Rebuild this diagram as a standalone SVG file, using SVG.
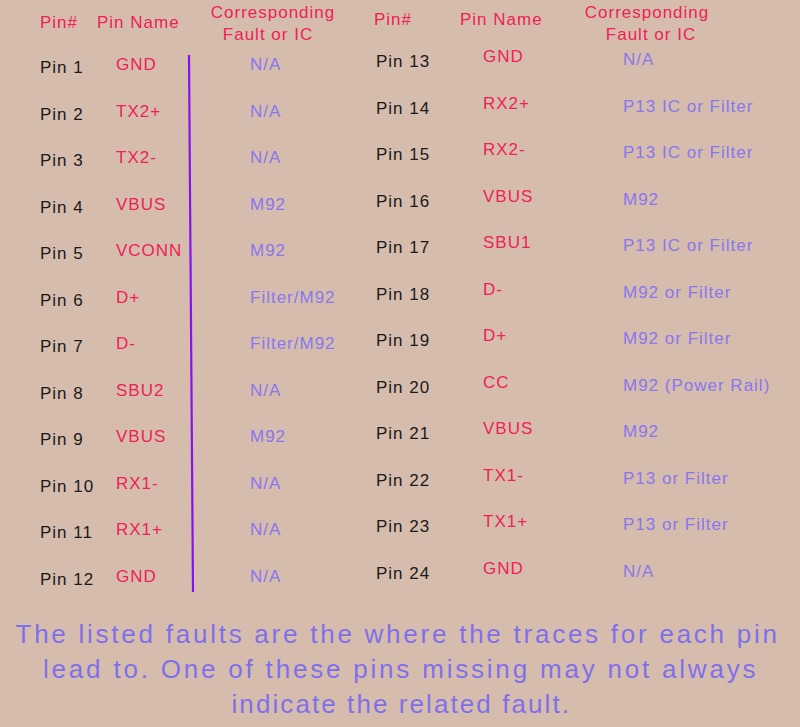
<svg xmlns="http://www.w3.org/2000/svg" width="800" height="727" viewBox="0 0 800 727">
<style>
text{font-family:"Liberation Sans",Arial,sans-serif;font-size:17px;letter-spacing:1px}
.h{fill:#ee2255}
.p{fill:#1a1a1a}
.n{fill:#ee2255}
.f{fill:#8877ee}
.note{fill:#7f70ea;font-size:26px;letter-spacing:1.5px;text-anchor:middle}
.mid{text-anchor:middle}
</style>
<rect width="800" height="727" fill="#d6bcad"/>
<g id="headers">
<text class="h" x="40" y="28">Pin#</text>
<text class="h" x="97" y="28">Pin Name</text>
<text class="h mid" x="273" y="18">Corresponding</text>
<text class="h mid" x="268" y="40">Fault or IC</text>
<text class="h" x="374" y="25">Pin#</text>
<text class="h" x="460" y="25">Pin Name</text>
<text class="h mid" x="647" y="18">Corresponding</text>
<text class="h mid" x="651" y="40">Fault or IC</text>
</g>
<g id="connectors">
<line x1="189" y1="55" x2="193" y2="592" stroke="#8a10f0" stroke-width="2.2"/>
</g>
<g id="left-pins">
<g id="pin1"><text class="p" x="40" y="73">Pin 1</text><text class="n" x="116" y="70">GND</text><text class="f" x="250" y="70">N/A</text></g>
<g id="pin2"><text class="p" x="40" y="119.5">Pin 2</text><text class="n" x="116" y="116.5">TX2+</text><text class="f" x="250" y="116.5">N/A</text></g>
<g id="pin3"><text class="p" x="40" y="166">Pin 3</text><text class="n" x="116" y="163">TX2-</text><text class="f" x="250" y="163">N/A</text></g>
<g id="pin4"><text class="p" x="40" y="212.5">Pin 4</text><text class="n" x="116" y="209.5">VBUS</text><text class="f" x="250" y="209.5">M92</text></g>
<g id="pin5"><text class="p" x="40" y="259">Pin 5</text><text class="n" x="116" y="256">VCONN</text><text class="f" x="250" y="256">M92</text></g>
<g id="pin6"><text class="p" x="40" y="305.5">Pin 6</text><text class="n" x="116" y="302.5">D+</text><text class="f" x="250" y="302.5">Filter/M92</text></g>
<g id="pin7"><text class="p" x="40" y="352">Pin 7</text><text class="n" x="116" y="349">D-</text><text class="f" x="250" y="349">Filter/M92</text></g>
<g id="pin8"><text class="p" x="40" y="398.5">Pin 8</text><text class="n" x="116" y="395.5">SBU2</text><text class="f" x="250" y="395.5">N/A</text></g>
<g id="pin9"><text class="p" x="40" y="445">Pin 9</text><text class="n" x="116" y="442">VBUS</text><text class="f" x="250" y="442">M92</text></g>
<g id="pin10"><text class="p" x="40" y="491.5">Pin 10</text><text class="n" x="116" y="488.5">RX1-</text><text class="f" x="250" y="488.5">N/A</text></g>
<g id="pin11"><text class="p" x="40" y="538">Pin 11</text><text class="n" x="116" y="535">RX1+</text><text class="f" x="250" y="535">N/A</text></g>
<g id="pin12"><text class="p" x="40" y="584.5">Pin 12</text><text class="n" x="116" y="581.5">GND</text><text class="f" x="250" y="581.5">N/A</text></g>
</g>
<g id="right-pins">
<g id="pin13"><text class="p" x="376" y="67">Pin 13</text><text class="n" x="483" y="62">GND</text><text class="f" x="623" y="65">N/A</text></g>
<g id="pin14"><text class="p" x="376" y="113.5">Pin 14</text><text class="n" x="483" y="108.5">RX2+</text><text class="f" x="623" y="111.5">P13 IC or Filter</text></g>
<g id="pin15"><text class="p" x="376" y="160">Pin 15</text><text class="n" x="483" y="155">RX2-</text><text class="f" x="623" y="158">P13 IC or Filter</text></g>
<g id="pin16"><text class="p" x="376" y="206.5">Pin 16</text><text class="n" x="483" y="201.5">VBUS</text><text class="f" x="623" y="204.5">M92</text></g>
<g id="pin17"><text class="p" x="376" y="253">Pin 17</text><text class="n" x="483" y="248">SBU1</text><text class="f" x="623" y="251">P13 IC or Filter</text></g>
<g id="pin18"><text class="p" x="376" y="299.5">Pin 18</text><text class="n" x="483" y="294.5">D-</text><text class="f" x="623" y="297.5">M92 or Filter</text></g>
<g id="pin19"><text class="p" x="376" y="346">Pin 19</text><text class="n" x="483" y="341">D+</text><text class="f" x="623" y="344">M92 or Filter</text></g>
<g id="pin20"><text class="p" x="376" y="392.5">Pin 20</text><text class="n" x="483" y="387.5">CC</text><text class="f" x="623" y="390.5">M92 (Power Rail)</text></g>
<g id="pin21"><text class="p" x="376" y="439">Pin 21</text><text class="n" x="483" y="434">VBUS</text><text class="f" x="623" y="437">M92</text></g>
<g id="pin22"><text class="p" x="376" y="485.5">Pin 22</text><text class="n" x="483" y="480.5">TX1-</text><text class="f" x="623" y="483.5">P13 or Filter</text></g>
<g id="pin23"><text class="p" x="376" y="532">Pin 23</text><text class="n" x="483" y="527">TX1+</text><text class="f" x="623" y="530">P13 or Filter</text></g>
<g id="pin24"><text class="p" x="376" y="578.5">Pin 24</text><text class="n" x="483" y="573.5">GND</text><text class="f" x="623" y="576.5">N/A</text></g>
</g>
<g id="note">
<text class="note" x="397" y="643" textLength="763" lengthAdjust="spacing">The listed faults are the where the traces for each pin</text>
<text class="note" x="400" y="678" textLength="714" lengthAdjust="spacing">lead to. One of these pins missing may not always</text>
<text class="note" x="401" y="713" textLength="339" lengthAdjust="spacing">indicate the related fault.</text>
</g>
</svg>
